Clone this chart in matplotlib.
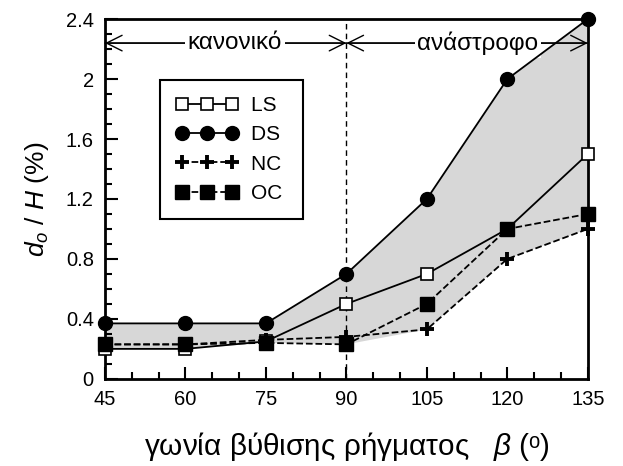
import numpy as np
import matplotlib.pyplot as plt
from matplotlib.ticker import MultipleLocator

plt.rcParams['font.family'] = ['Liberation Sans', 'DejaVu Sans']
plt.rcParams['mathtext.fontset'] = 'custom'
plt.rcParams['mathtext.it'] = 'Liberation Sans:italic'
plt.rcParams['mathtext.rm'] = 'Liberation Sans'

beta = [45, 60, 75, 90, 105, 120, 135]
ls = [0.20, 0.20, 0.25, 0.50, 0.70, 1.00, 1.50]
ds = [0.37, 0.37, 0.37, 0.70, 1.20, 2.00, 2.40]
nc = [0.23, 0.23, 0.26, 0.28, 0.33, 0.80, 1.00]
oc = [0.23, 0.23, 0.24, 0.23, 0.50, 1.00, 1.10]
names = ['LS', 'DS', 'NC', 'OC']

fig = plt.figure(figsize=(6.23, 4.66), dpi=100)
ax = fig.add_axes([0.1685, 0.187, 0.775, 0.772])

# shaded band between DS and the lowest of the other curves
low = np.minimum(np.minimum(ls, nc), oc)
ax.fill_between(beta, low, ds, facecolor='#d7d7d7', edgecolor='none', zorder=1)

h1, = ax.plot(beta, ls, 'k-', marker='s', mfc='white', mec='black', ms=8.5, mew=1.2, lw=1.3, zorder=4, clip_on=False)
h2, = ax.plot(beta, ds, 'k-', marker='o', ms=10, lw=1.3, zorder=4, clip_on=False)
h3, = ax.plot(beta, nc, 'k--', marker='+', ms=10, mew=2.8, lw=1.3, zorder=4, clip_on=False)
h4, = ax.plot(beta, oc, 'k--', marker='s', ms=9.5, lw=1.3, zorder=4, clip_on=False)

ax.axvline(90, color='black', ls=(0, (4, 3)), lw=1.0, zorder=2)

# arrows for the two fault types
ya = 2.24
aprops = dict(arrowstyle='->', lw=1.0, color='black', mutation_scale=28, shrinkA=0, shrinkB=0)
for a, b in [(45, 90), (90, 135)]:
    ax.annotate('', xy=(a, ya), xytext=(b, ya), arrowprops=aprops)
    ax.annotate('', xy=(b, ya), xytext=(a, ya), arrowprops=aprops)
ax.text(69.2, ya, 'κανονικό', ha='center', va='center', fontsize=17.5,
        bbox=dict(facecolor='white', edgecolor='none', pad=2), zorder=3)
ax.text(114.5, ya, 'ανάστροφο', ha='center', va='center', fontsize=17.5,
        bbox=dict(facecolor='white', edgecolor='none', pad=2), zorder=3)

ax.set_xlim(45, 135)
ax.set_ylim(0, 2.4)
ax.set_xticks(beta)
ax.set_yticks([0, 0.4, 0.8, 1.2, 1.6, 2.0, 2.4])
ax.set_yticklabels(['0', '0.4', '0.8', '1.2', '1.6', '2', '2.4'])
ax.xaxis.set_minor_locator(MultipleLocator(5))
ax.yaxis.set_minor_locator(MultipleLocator(0.1))
ax.tick_params(which='both', direction='in', width=1.5, labelsize=14.5)
ax.tick_params(which='major', length=9)
ax.tick_params(which='minor', length=5)
ax.tick_params(axis='x', pad=8)
ax.tick_params(axis='y', pad=8)
for s in ax.spines.values():
    s.set_linewidth(2)

ax.set_xlabel(r'γωνία βύθισης ρήγματος   $\it{β}$ (ᵒ)', fontsize=21.4, labelpad=15)
ax.set_ylabel(r'$d_o$ / $H$ (%)', fontsize=19, labelpad=11)

leg = ax.legend([h1, h2, h3, h4], [n + '\u00a0' for n in names],
                loc='upper left', bbox_to_anchor=(0.114, 0.83), borderaxespad=0,
                numpoints=3, fontsize=15, frameon=True, fancybox=False,
                edgecolor='black', handlelength=3.0, handletextpad=0.6,
                borderpad=0.75, labelspacing=0.5, framealpha=1)
leg.get_frame().set_linewidth(1.5)

fig.savefig('out.png', dpi=100)
